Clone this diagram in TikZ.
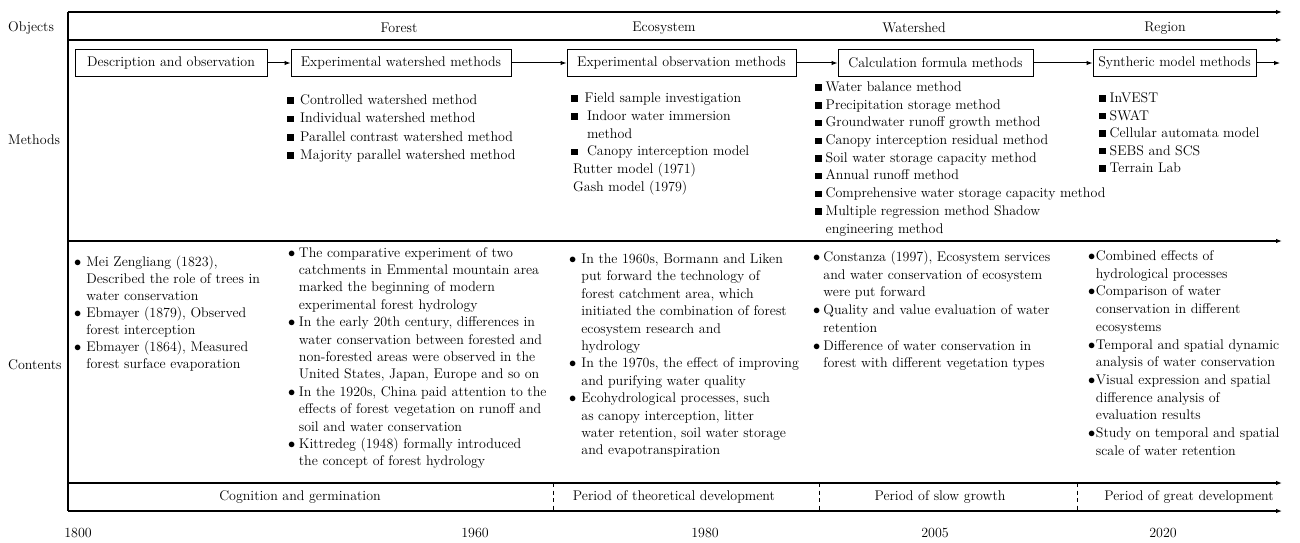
\documentclass[tikz,border=0pt]{standalone}
\usetikzlibrary{arrows.meta}
\newcommand{\fs}{\fontsize{14}{17.5}\selectfont}
\newcommand{\sqb}{\rule[0.6pt]{6.5pt}{6.5pt}}
\newcommand{\rb}{$\bullet$}
\begin{document}
\begin{tikzpicture}[x=1pt,y=-1pt,
  axis/.style={line width=1.1pt,-{Latex[length=6pt,width=4.5pt]}},
  frame/.style={line width=1.1pt},
  mbox/.style={draw,line width=1pt,minimum height=26pt,inner xsep=3pt,font=\fs},
  flow/.style={line width=1pt,-{Latex[length=6pt,width=4.5pt]}},
  lbl/.style={font=\fs,inner sep=0pt},
  lst/.style={anchor=base west,inner sep=0pt,align=left},
  divider/.style={line width=0.8pt,dash pattern=on 4pt off 3.5pt}]
\useasboundingbox (0,0) rectangle (1300,543);
% axes
\coordinate (a0) at (68,12);  \coordinate (a1) at (1282,12);
\coordinate (c0) at (68,40);  \coordinate (c1) at (1282,40);
\coordinate (m0) at (68,241); \coordinate (m1) at (1282,241);
\coordinate (p0) at (68,483); \coordinate (p1) at (1282,483);
\coordinate (q0) at (68,511); \coordinate (q1) at (1282,511);
\draw[axis] (a0) -- (a1);
\draw[axis] (c0) -- (c1);
\draw[axis] (m0) -- (m1);
\draw[axis] (p0) -- (p1);
\draw[axis] (q0) -- (q1);
\draw[frame] (a0) -- (q0);
% row labels
\node[lbl,anchor=west] (lo) at (8,28) {Objects};
\node[lbl,anchor=west] (lm) at (8,140) {Methods};
\node[lbl,anchor=west] (lc) at (8,365) {Contents};
% objects
\node[lbl] (o1) at (399,28) {Forest};
\node[lbl] (o2) at (664,28) {Ecosystem};
\node[lbl] (o3) at (914,28) {Watershed};
\node[lbl] (o4) at (1165,28) {Region};
% method boxes
\node[mbox,minimum width=192pt] (b1) at (171,63) {Description and observation};
\node[mbox,minimum width=220pt] (b2) at (401,63) {Experimental watershed methods};
\node[mbox,minimum width=229pt] (b3) at (681.5,63) {Experimental observation methods};
\node[mbox,minimum width=195pt] (b4) at (935.5,63) {Calculation formula methods};
\node[mbox,minimum width=163pt] (b5) at (1174.5,63) {Syntheric model methods};
\coordinate (bend) at (1280,63);
\draw[flow] (b1) -- (b2);
\draw[flow] (b2) -- (b3);
\draw[flow] (b3) -- (b4);
\draw[flow] (b4) -- (b5);
\draw[flow] (b5) -- (bend);
% method lists
\node[lst,font={\fontsize{14}{18.3}\selectfont}] (l1) at (287,104.5) {\begin{tabular}[t]{@{}l@{\hspace{6.5pt}}l@{}}
\sqb & Controlled watershed method\\
\sqb & Individual watershed method\\
\sqb & Parallel contrast watershed method\\
\sqb & Majority parallel watershed method
\end{tabular}};
\node[lst,font={\fontsize{14}{17.8}\selectfont}] (l2) at (571,102.5) {\begin{tabular}[t]{@{}l@{\hspace{7pt}}l@{}}
\sqb & Field sample investigation\\
\sqb & \,Indoor water immersion\\
 & \,method\\
\sqb & \,Canopy interception model\\
\multicolumn{2}{@{}l@{}}{\hspace{2pt}Rutter model (1971)}\\
\multicolumn{2}{@{}l@{}}{\hspace{2pt}Gash model (1979)}
\end{tabular}};
\node[lst,font={\fontsize{14}{17.7}\selectfont}] (l3) at (815,91.5) {\begin{tabular}[t]{@{}l@{\hspace{4pt}}l@{}}
\sqb & Water balance method\\
\sqb & Precipitation storage method\\
\sqb & Groundwater runoff growth method\\
\sqb & Canopy interception residual method\\
\sqb & Soil water storage capacity method\\
\sqb & Annual runoff method\\
\sqb & Comprehensive water storage capacity method\\
\sqb & Multiple regression method Shadow\\
 & engineering method
\end{tabular}};
\node[lst,font={\fontsize{14}{17.5}\selectfont}] (l4) at (1099,102.5) {\begin{tabular}[t]{@{}l@{\hspace{4pt}}l@{}}
\sqb & InVEST\\
\sqb & SWAT\\
\sqb & Cellular automata model\\
\sqb & SEBS and SCS\\
\sqb & Terrain Lab
\end{tabular}};
% contents
\node[lst,font={\fontsize{14}{17}\selectfont}] (k1) at (74,266.5) {\begin{tabular}[t]{@{}l@{\hspace{5pt}}l@{}}
\rb & Mei Zengliang (1823),\\
 & Described the role of trees in\\
 & water conservation\\
\rb & Ebmayer (1879), Observed\\
 & forest interception\\
\rb & Ebmayer (1864), Measured\\
 & forest surface evaporation
\end{tabular}};
\node[lst,font={\fontsize{14}{17.4}\selectfont}] (k2) at (288,257) {\begin{tabular}[t]{@{}l@{\hspace{3.5pt}}l@{}}
\rb & The comparative experiment of two\\
 & catchments in Emmental mountain area\\
 & marked the beginning of modern\\
 & experimental forest hydrology\\
\rb & In the early 20th century, differences in\\
 & water conservation between forested and\\
 & non-forested areas were observed in the\\
 & United States, Japan, Europe and so on\\
\rb & In the 1920s, China paid attention to the\\
 & effects of forest vegetation on runoff and\\
 & soil and water conservation\\
\rb & Kittredeg (1948) formally introduced\\
 & the concept of forest hydrology
\end{tabular}};
\node[lst,font={\fontsize{14}{17.4}\selectfont}] (k3) at (569,263.5) {\begin{tabular}[t]{@{}l@{\hspace{5pt}}l@{}}
\rb & In the 1960s, Bormann and Liken\\
 & put forward the technology of\\
 & forest catchment area, which\\
 & initiated the combination of forest\\
 & ecosystem research and\\
 & hydrology\\
\rb & In the 1970s, the effect of improving\\
 & and purifying water quality\\
\rb & Ecohydrological processes, such\\
 & as canopy interception, litter\\
 & water retention, soil water storage\\
 & and evapotranspiration
\end{tabular}};
\node[lst,font={\fontsize{14}{17.7}\selectfont}] (k4) at (813,261.5) {\begin{tabular}[t]{@{}l@{\hspace{3pt}}l@{}}
\rb & Constanza (1997), Ecosystem services\\
 & and water conservation of ecosystem\\
 & were put forward\\
\rb & Quality and value evaluation of water\\
 & retention\\
\rb & Difference of water conservation in\\
 & forest with different vegetation types
\end{tabular}};
\node[lst,font={\fontsize{14}{17.7}\selectfont}] (k5) at (1088,260.5) {\begin{tabular}[t]{@{}l@{\hspace{0.5pt}}l@{}}
\rb & Combined effects of\\
 & hydrological processes\\
\rb & Comparison of water\\
 & conservation in different\\
 & ecosystems\\
\rb & Temporal and spatial dynamic\\
 & analysis of water conservation\\
\rb & Visual expression and spatial\\
 & difference analysis of\\
 & evaluation results\\
\rb & Study on temporal and spatial\\
 & scale of water retention
\end{tabular}};
% periods
\coordinate (d1a) at (553,483); \coordinate (d1b) at (553,511);
\coordinate (d2a) at (819,483); \coordinate (d2b) at (819,511);
\coordinate (d3a) at (1077,483); \coordinate (d3b) at (1077,511);
\draw[divider] (d1a) -- (d1b);
\draw[divider] (d2a) -- (d2b);
\draw[divider] (d3a) -- (d3b);
\node[lbl] (s1) at (300,497) {Cognition and germination};
\node[lbl] (s2) at (674,497) {Period of theoretical development};
\node[lbl] (s3) at (940,497) {Period of slow growth};
\node[lbl] (s4) at (1189,497) {Period of great development};
% years
\node[lbl] (y1) at (78,533) {1800};
\node[lbl] (y2) at (475,533) {1960};
\node[lbl] (y3) at (705,533) {1980};
\node[lbl] (y4) at (935,533) {2005};
\node[lbl] (y5) at (1163,533) {2020};
\end{tikzpicture}
\end{document}
